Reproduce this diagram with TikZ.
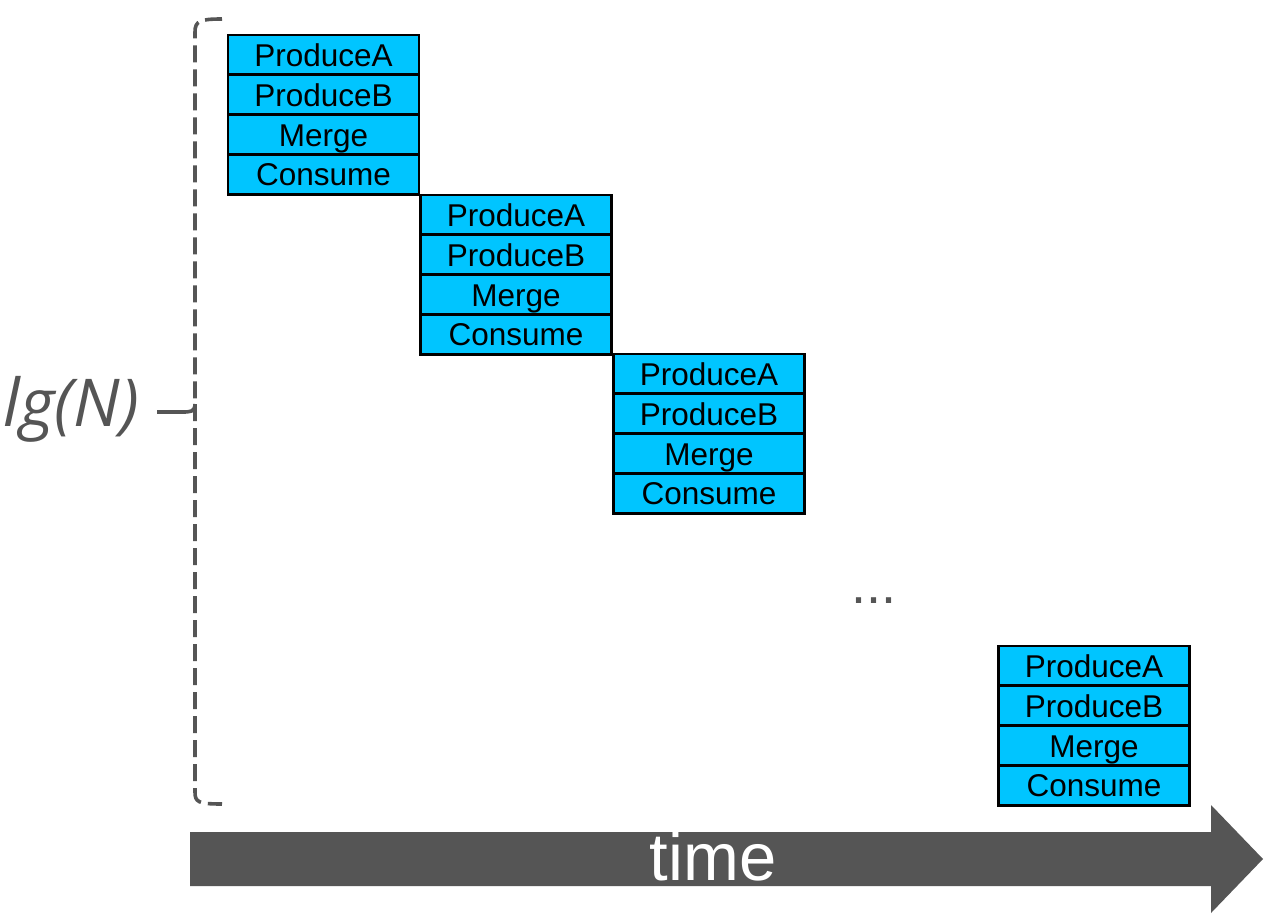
\documentclass[tikz,border=0pt]{standalone}
\usepackage{fontspec}
\setmainfont{Liberation Sans}
\newfontfamily\lgfont{Open Sans}
\definecolor{boxfill}{HTML}{00C5FF}
\definecolor{darkgray}{HTML}{555555}
\begin{document}
\begin{tikzpicture}[x=1pt,y=-1pt,
  row/.style={draw=black, line width=2.8pt, fill=boxfill, rectangle,
    minimum width=191pt, minimum height=39.8pt, inner sep=0pt,
    text height=25pt, text depth=2pt,
    font=\fontsize{31.5}{31.5}\selectfont, text=black},
  bracestyle/.style={draw=darkgray, line width=3.6pt, dash pattern=on 17pt off 7pt},
]
\useasboundingbox (0,0) rectangle (1269,918);
\fill[white] (0,0) rectangle (1269,918);

% stacks
\foreach \k/\cx/\ty in {1/323.5/35, 2/516/195, 3/709/354, 4/1094/646}{
  \node[row] (p\k a) at (\cx,\ty+19.9) {ProduceA};
  \node[row] (p\k b) at (\cx,\ty+59.7) {ProduceB};
  \node[row] (p\k m) at (\cx,\ty+99.5) {Merge};
  \node[row] (p\k c) at (\cx,\ty+139.3) {Consume};
}

% dots
\node[text=darkgray, font=\fontsize{54}{54}\selectfont, inner sep=0pt] (dots) at (874,601) {...};

% brace
\coordinate (btop) at (222,19);
\coordinate (bmid) at (157,412);
\coordinate (bbot) at (222,804);
\draw[bracestyle] (btop) .. controls (200,19) and (195,21) .. (195,32) -- (195,404);
\draw[draw=darkgray, line width=3.6pt] (195,404) .. controls (195,412) and (190,412) .. (182,412) -- (bmid);
\draw[bracestyle] (195,404) .. controls (195,414) and (195,416) .. (195,424) -- (195,792)
  .. controls (195,802) and (198,804) .. (bbot);

\node[text=darkgray, font=\lgfont\itshape\fontsize{66}{66}\selectfont, inner sep=0pt, anchor=east] (lg) at (139,409) {lg(N)};

% time arrow
\fill[darkgray] (190,832) -- (1211,832) -- (1211,805) -- (1263,859) -- (1211,913) -- (1211,886) -- (190,886) -- cycle;
\node[text=white, font=\fontsize{67}{67}\selectfont, inner sep=0pt] (time) at (713,857) {time};
\end{tikzpicture}
\end{document}
